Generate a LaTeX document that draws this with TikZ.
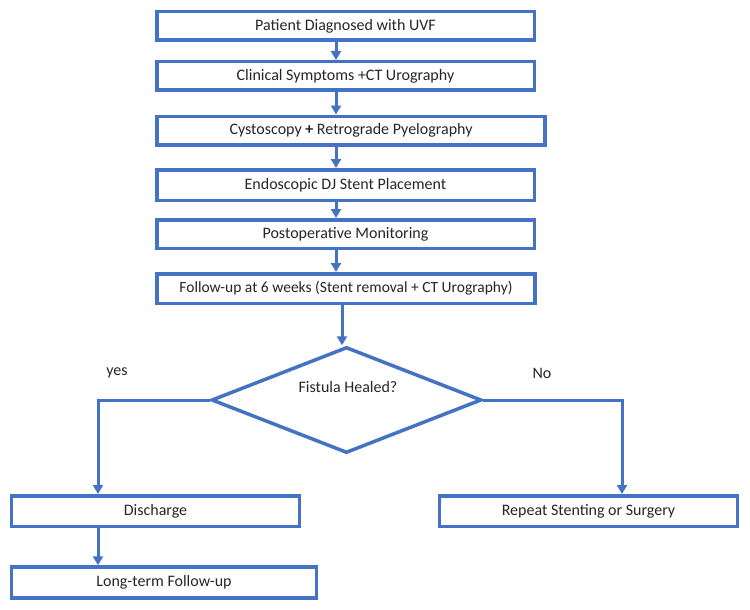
\documentclass[tikz,border=0pt]{standalone}
\usepackage{fontspec}
\setmainfont{Carlito}
\usepackage{tikz}
\usetikzlibrary{positioning,arrows.meta,shapes.geometric}
\definecolor{flowblue}{RGB}{68,114,196}
\definecolor{inktext}{RGB}{38,38,38}

\begin{document}
\begin{tikzpicture}[x=1pt,y=-1pt,font=\fontsize{16}{19}\selectfont,text=inktext]
        \tikzstyle{stage}=[draw=flowblue,line width=3.5pt,rectangle,fill=white,inner sep=0pt,minimum height=28.5pt]
        \tikzstyle{decision}=[draw=flowblue,line width=3.5pt,diamond,inner sep=0pt,minimum width=270pt,minimum height=106pt]
        \tikzstyle{flow}=[draw=flowblue,line width=3pt,-{Triangle[length=9pt,width=10pt]}]
        \tikzstyle{answer}=[inner sep=0pt]

        \useasboundingbox (0,0) rectangle (750,610);

        % main column
        \draw (345.5,26) node[stage,minimum width=377.5pt] (s1) {Patient Diagnosed with UVF};
        \draw (345.5,76) node[stage,minimum width=377.5pt] (s2) {Clinical Symptoms +CT Urography};
        \draw (351,130.5) node[stage,minimum width=388pt] (s3) {Cystoscopy \textbf{+} Retrograde Pyelography};
        \draw (345.5,185) node[stage,minimum width=377.5pt,minimum height=30.5pt] (s4) {Endoscopic DJ Stent Placement};
        \draw (345.5,234) node[stage,minimum width=377.5pt] (s5) {Postoperative Monitoring};
        \draw (346,288.5) node[stage,minimum width=378pt,minimum height=29.5pt] (s6) {\fontsize{15.5}{18}\selectfont Follow-up at 6 weeks (Stent removal + CT Urography)};

        % decision and branches
        \draw (346.5,400) node[decision] (dec) {};
        \draw (348,387) node[answer] (q) {Fistula Healed?};
        \draw (117,373) node[answer] (yes) {yes};
        \draw (542,373) node[answer] (no) {No};

        \draw (155.5,511) node[stage,minimum width=288pt,minimum height=30.5pt] (dis) {Discharge};
        \draw (588.5,511) node[stage,minimum width=298pt,minimum height=30.5pt] (rep) {Repeat Stenting or Surgery};
        \draw (164,582.5) node[stage,minimum width=305pt,minimum height=31pt] (lt) {Long-term Follow-up};

        \coordinate (col) at (336,0);
        \coordinate (col2) at (342,0);
        \coordinate (dropL) at (98,0);
        \coordinate (dropR) at (622,0);

        \draw[flow] (s1.south -| col) -- (s2.north -| col);
        \draw[flow] (s2.south -| col) -- (s3.north -| col);
        \draw[flow] (s3.south -| col) -- (s4.north -| col);
        \draw[flow] (s4.south -| col) -- (s5.north -| col);
        \draw[flow] (s5.south -| col) -- (s6.north -| col);
        \draw[flow] (s6.south -| col2) -- (dec.north -| col2);
        \draw[flow] (dec.west) -| (dis.north -| dropL);
        \draw[flow] (dec.east) -| (rep.north -| dropR);
        \draw[flow] (dis.south -| dropL) -- (lt.north -| dropL);
    \end{tikzpicture}
\end{document}
